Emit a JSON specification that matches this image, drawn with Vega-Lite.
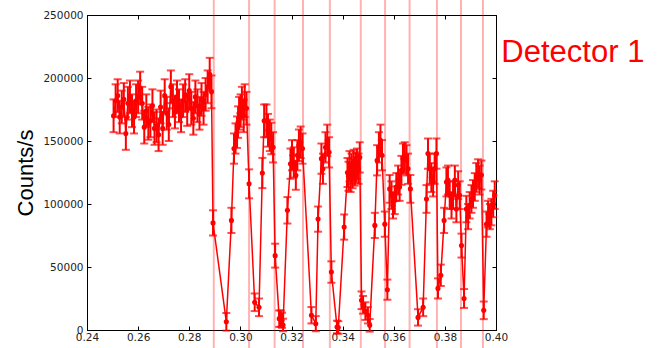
{
  "$schema": "https://vega.github.io/schema/vega-lite/v6.json",
  "width": 409,
  "height": 315,
  "autosize": {"type": "none"},
  "padding": {"left": 87, "top": 15, "right": 172, "bottom": 18},
  "background": "white",
  "config": {
    "view": {"stroke": "black", "strokeWidth": 1},
    "axis": {"grid": false, "domainColor": "black", "tickColor": "black", "labelFont": "DejaVu Sans", "labelFontSize": 10.5, "labelColor": "#222", "tickSize": -4}
  },
  "datasets": {
    "lines": [
      {"x": 0.2896}, {"x": 0.3034}, {"x": 0.3134}, {"x": 0.3245}, {"x": 0.3350}, {"x": 0.3471},
      {"x": 0.3566}, {"x": 0.3662}, {"x": 0.3769}, {"x": 0.3863}, {"x": 0.3949}
    ],
    "label": [{"name": "Detector 1"}],
    "pts": [
      {"x": 0.2504, "y": 170000, "e": 13000}, {"x": 0.2512, "y": 182000, "e": 13000}, {"x": 0.2520, "y": 186000, "e": 13000},
      {"x": 0.2528, "y": 169000, "e": 13000}, {"x": 0.2536, "y": 177000, "e": 13000}, {"x": 0.2544, "y": 183000, "e": 13000},
      {"x": 0.2552, "y": 156000, "e": 13000}, {"x": 0.2560, "y": 180000, "e": 13000}, {"x": 0.2568, "y": 185000, "e": 13000},
      {"x": 0.2576, "y": 174000, "e": 13000}, {"x": 0.2584, "y": 169000, "e": 13000}, {"x": 0.2592, "y": 182000, "e": 13000},
      {"x": 0.2600, "y": 185000, "e": 13000}, {"x": 0.2608, "y": 192000, "e": 13000}, {"x": 0.2616, "y": 180000, "e": 13000},
      {"x": 0.2624, "y": 161000, "e": 13000}, {"x": 0.2632, "y": 174000, "e": 13000}, {"x": 0.2640, "y": 164000, "e": 13000},
      {"x": 0.2648, "y": 166000, "e": 13000}, {"x": 0.2656, "y": 178000, "e": 13000}, {"x": 0.2664, "y": 160000, "e": 13000},
      {"x": 0.2672, "y": 162000, "e": 13000}, {"x": 0.2680, "y": 155000, "e": 13000}, {"x": 0.2688, "y": 177000, "e": 13000},
      {"x": 0.2696, "y": 160000, "e": 13000}, {"x": 0.2704, "y": 186000, "e": 13000}, {"x": 0.2712, "y": 172000, "e": 13000},
      {"x": 0.2720, "y": 163000, "e": 13000}, {"x": 0.2728, "y": 193000, "e": 13000}, {"x": 0.2736, "y": 182000, "e": 13000},
      {"x": 0.2744, "y": 173000, "e": 13000}, {"x": 0.2752, "y": 185000, "e": 13000}, {"x": 0.2760, "y": 178000, "e": 13000},
      {"x": 0.2768, "y": 170000, "e": 13000}, {"x": 0.2776, "y": 182000, "e": 13000}, {"x": 0.2784, "y": 186000, "e": 13000},
      {"x": 0.2792, "y": 175000, "e": 13000}, {"x": 0.2800, "y": 190000, "e": 13000}, {"x": 0.2808, "y": 176000, "e": 13000},
      {"x": 0.2816, "y": 168000, "e": 13000}, {"x": 0.2824, "y": 185000, "e": 13000}, {"x": 0.2832, "y": 178000, "e": 13000},
      {"x": 0.2840, "y": 172000, "e": 13000}, {"x": 0.2848, "y": 183000, "e": 13000}, {"x": 0.2856, "y": 176000, "e": 13000},
      {"x": 0.2864, "y": 187000, "e": 13000}, {"x": 0.2872, "y": 193000, "e": 13000}, {"x": 0.2880, "y": 203000, "e": 13000},
      {"x": 0.2887, "y": 189000, "e": 13000},
      {"x": 0.2893, "y": 85000, "e": 10000}, {"x": 0.2945, "y": 6500, "e": 7000}, {"x": 0.2965, "y": 87000, "e": 10000},
      {"x": 0.2975, "y": 144000, "e": 12000}, {"x": 0.2981, "y": 152000, "e": 12000}, {"x": 0.2987, "y": 157000, "e": 12500},
      {"x": 0.2991, "y": 165000, "e": 12500}, {"x": 0.2995, "y": 172000, "e": 13000}, {"x": 0.3001, "y": 174000, "e": 13000},
      {"x": 0.3006, "y": 180000, "e": 13000}, {"x": 0.3013, "y": 170000, "e": 13000}, {"x": 0.3017, "y": 182000, "e": 13000},
      {"x": 0.3024, "y": 176000, "e": 13000}, {"x": 0.3034, "y": 116000, "e": 11500}, {"x": 0.3056, "y": 22000, "e": 7000},
      {"x": 0.3073, "y": 18000, "e": 7000}, {"x": 0.3086, "y": 124600, "e": 12000}, {"x": 0.3093, "y": 166000, "e": 13000},
      {"x": 0.3102, "y": 166000, "e": 13000}, {"x": 0.3108, "y": 158500, "e": 13000}, {"x": 0.3115, "y": 154500, "e": 12500},
      {"x": 0.3121, "y": 152000, "e": 12500}, {"x": 0.3128, "y": 145000, "e": 12000}, {"x": 0.3136, "y": 59000, "e": 9500},
      {"x": 0.3152, "y": 9000, "e": 6500}, {"x": 0.3158, "y": 9000, "e": 6500}, {"x": 0.3163, "y": 7700, "e": 6000},
      {"x": 0.3167, "y": 4000, "e": 5000}, {"x": 0.3184, "y": 95000, "e": 10500}, {"x": 0.3196, "y": 132000, "e": 12000},
      {"x": 0.3202, "y": 138700, "e": 12000}, {"x": 0.3209, "y": 133000, "e": 12000}, {"x": 0.3217, "y": 122800, "e": 11500},
      {"x": 0.3223, "y": 138700, "e": 12000}, {"x": 0.3229, "y": 146600, "e": 12500}, {"x": 0.3236, "y": 149000, "e": 12500},
      {"x": 0.3243, "y": 144000, "e": 12000}, {"x": 0.3278, "y": 11700, "e": 6500}, {"x": 0.3295, "y": 5000, "e": 6000},
      {"x": 0.3304, "y": 88000, "e": 10000}, {"x": 0.3317, "y": 136000, "e": 12000}, {"x": 0.3323, "y": 128000, "e": 12000},
      {"x": 0.3333, "y": 145000, "e": 12000}, {"x": 0.3340, "y": 150500, "e": 12500}, {"x": 0.3347, "y": 141000, "e": 12000},
      {"x": 0.3356, "y": 46000, "e": 8500}, {"x": 0.3378, "y": 2400, "e": 5000}, {"x": 0.3383, "y": 2000, "e": 5000},
      {"x": 0.3406, "y": 81700, "e": 10000}, {"x": 0.3419, "y": 125000, "e": 11500}, {"x": 0.3423, "y": 122000, "e": 11500},
      {"x": 0.3427, "y": 130000, "e": 12000}, {"x": 0.3431, "y": 121000, "e": 11500}, {"x": 0.3435, "y": 128000, "e": 12000},
      {"x": 0.3439, "y": 124000, "e": 11500}, {"x": 0.3443, "y": 131000, "e": 12000}, {"x": 0.3447, "y": 126000, "e": 11500},
      {"x": 0.3452, "y": 129000, "e": 12000}, {"x": 0.3456, "y": 132000, "e": 12000}, {"x": 0.3462, "y": 128000, "e": 12000},
      {"x": 0.3467, "y": 137000, "e": 12000}, {"x": 0.3474, "y": 23600, "e": 7000}, {"x": 0.3480, "y": 20000, "e": 7000},
      {"x": 0.3489, "y": 15000, "e": 7000}, {"x": 0.3499, "y": 11700, "e": 6500}, {"x": 0.3506, "y": 3700, "e": 5000},
      {"x": 0.3526, "y": 83000, "e": 10000}, {"x": 0.3535, "y": 134700, "e": 12000}, {"x": 0.3542, "y": 145000, "e": 12000},
      {"x": 0.3548, "y": 150500, "e": 12500}, {"x": 0.3554, "y": 138700, "e": 12000}, {"x": 0.3565, "y": 84000, "e": 10000},
      {"x": 0.3575, "y": 32000, "e": 8000}, {"x": 0.3584, "y": 112000, "e": 11000}, {"x": 0.3591, "y": 107000, "e": 11000},
      {"x": 0.3597, "y": 99000, "e": 10500}, {"x": 0.3604, "y": 103000, "e": 11000}, {"x": 0.3610, "y": 113500, "e": 11000},
      {"x": 0.3617, "y": 119000, "e": 11500}, {"x": 0.3623, "y": 113500, "e": 11000}, {"x": 0.3630, "y": 126700, "e": 11500},
      {"x": 0.3636, "y": 136000, "e": 12000}, {"x": 0.3643, "y": 137000, "e": 12000}, {"x": 0.3650, "y": 134700, "e": 12000},
      {"x": 0.3656, "y": 128000, "e": 12000}, {"x": 0.3665, "y": 112000, "e": 11000}, {"x": 0.3695, "y": 10000, "e": 6500},
      {"x": 0.3715, "y": 18000, "e": 7000}, {"x": 0.3728, "y": 104000, "e": 11000}, {"x": 0.3734, "y": 140000, "e": 12000},
      {"x": 0.3741, "y": 128000, "e": 12000}, {"x": 0.3747, "y": 121000, "e": 11500}, {"x": 0.3754, "y": 117500, "e": 11500},
      {"x": 0.3760, "y": 128000, "e": 12000}, {"x": 0.3767, "y": 140000, "e": 12000}, {"x": 0.3773, "y": 33000, "e": 8000},
      {"x": 0.3784, "y": 43400, "e": 8500}, {"x": 0.3797, "y": 87000, "e": 10000}, {"x": 0.3806, "y": 117500, "e": 11500},
      {"x": 0.3812, "y": 119000, "e": 11500}, {"x": 0.3819, "y": 107000, "e": 11000}, {"x": 0.3826, "y": 99000, "e": 10500},
      {"x": 0.3832, "y": 107000, "e": 11000}, {"x": 0.3839, "y": 119000, "e": 11500}, {"x": 0.3845, "y": 96000, "e": 10500},
      {"x": 0.3852, "y": 115000, "e": 11000}, {"x": 0.3858, "y": 107000, "e": 11000}, {"x": 0.3865, "y": 67000, "e": 9500},
      {"x": 0.3875, "y": 25000, "e": 7500}, {"x": 0.3884, "y": 96000, "e": 10500}, {"x": 0.3891, "y": 90000, "e": 10000},
      {"x": 0.3897, "y": 99000, "e": 10500}, {"x": 0.3904, "y": 104000, "e": 11000}, {"x": 0.3910, "y": 108000, "e": 11000},
      {"x": 0.3917, "y": 113500, "e": 11000}, {"x": 0.3923, "y": 121000, "e": 11500}, {"x": 0.3930, "y": 124000, "e": 11500},
      {"x": 0.3936, "y": 119000, "e": 11500}, {"x": 0.3943, "y": 123000, "e": 11500}, {"x": 0.3952, "y": 15600, "e": 7000},
      {"x": 0.3963, "y": 84000, "e": 10000}, {"x": 0.3969, "y": 92000, "e": 10500}, {"x": 0.3976, "y": 90000, "e": 10000},
      {"x": 0.3982, "y": 93600, "e": 10500}, {"x": 0.3989, "y": 100000, "e": 10500}, {"x": 0.3995, "y": 107000, "e": 11000}
    ]
  },
  "resolve": {"axis": {"x": "independent", "y": "independent"}},
  "layer": [
    {
      "data": {"name": "lines"},
      "mark": {"type": "rule", "color": "#ff0000", "opacity": 0.3, "strokeWidth": 2},
      "encoding": {
        "x": {"field": "x", "type": "quantitative", "scale": {"domain": [0.24, 0.40], "nice": false, "zero": false}, "axis": null},
        "y": {"datum": -15000, "type": "quantitative", "scale": {"domain": [0, 250000], "nice": false}, "axis": null},
        "y2": {"datum": 262000}
      }
    },
    {
      "data": {"name": "pts"},
      "mark": {"type": "errorbar", "color": "#ff0000", "thickness": 2, "ticks": {"size": 8, "thickness": 2, "color": "#ff0000"}},
      "encoding": {
        "x": {"field": "x", "type": "quantitative", "scale": {"domain": [0.24, 0.40], "nice": false, "zero": false},
              "axis": {"orient": "bottom", "title": null, "values": [0.24, 0.26, 0.28, 0.30, 0.32, 0.34, 0.36, 0.38, 0.40], "format": ".2f", "labelPadding": 6, "labelFlush": false}},
        "y": {"field": "y", "type": "quantitative", "scale": {"domain": [0, 250000], "nice": false},
              "axis": {"orient": "left", "title": "Counts/s", "values": [0, 50000, 100000, 150000, 200000, 250000], "format": "d", "labelPadding": 8,
                       "titleFont": "Liberation Sans", "titleFontSize": 22, "titleFontWeight": "normal", "titleColor": "black", "titlePadding": 5}},
        "yError": {"field": "e"}
      }
    },
    {
      "data": {"name": "pts"},
      "mark": {"type": "line", "color": "#ff0000", "strokeWidth": 1.5, "point": {"filled": true, "size": 26, "color": "#ff0000"}},
      "encoding": {
        "x": {"field": "x", "type": "quantitative", "axis": {"orient": "top", "labels": false, "title": null, "values": [0.24, 0.26, 0.28, 0.30, 0.32, 0.34, 0.36, 0.38, 0.40]}},
        "y": {"field": "y", "type": "quantitative", "axis": {"orient": "right", "labels": false, "title": null, "values": [0, 50000, 100000, 150000, 200000, 250000]}}
      }
    },
    {
      "data": {"name": "label"},
      "mark": {"type": "text", "color": "#ff0000", "fontSize": 31, "font": "Liberation Sans", "align": "left", "baseline": "alphabetic"},
      "encoding": {
        "text": {"field": "name"},
        "x": {"datum": 0.4021, "type": "quantitative", "axis": null},
        "y": {"datum": 212500, "type": "quantitative", "axis": null}
      }
    }
  ]
}
